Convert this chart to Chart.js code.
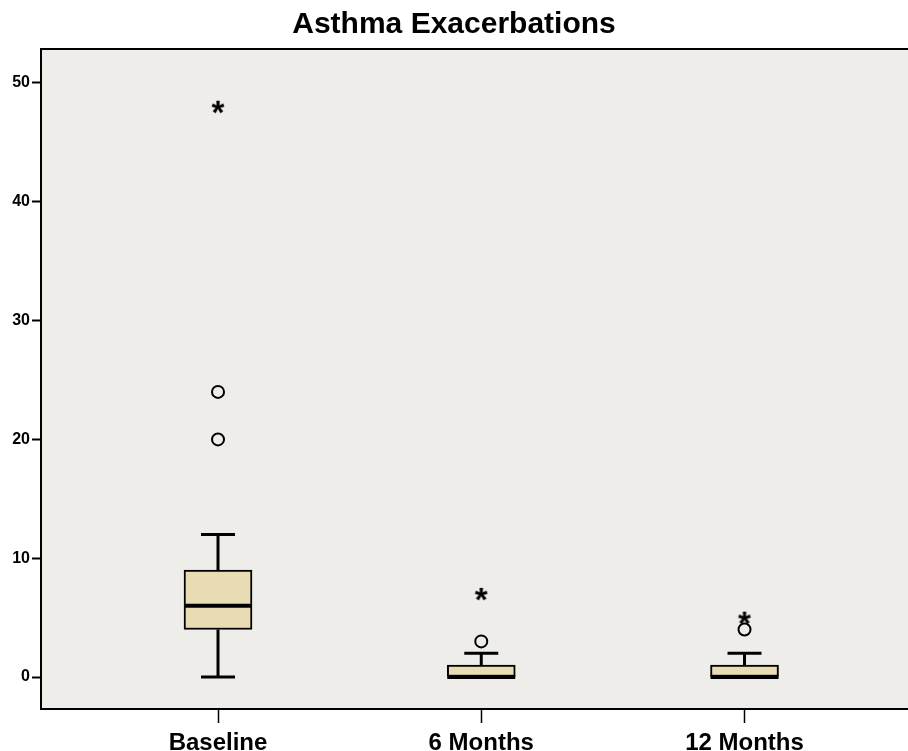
<!DOCTYPE html>
<html>
<head>
<meta charset="utf-8">
<script src="https://cdn.jsdelivr.net/npm/chart.js@4"></script>
<style>
  body { margin: 0; background: #ffffff; }
  canvas { display: block; }
</style>
</head>
<body>
<canvas id="myChart" width="908" height="751"></canvas>
<script>
// Groupes et statistiques de la boîte à moustaches
const groups = ['Baseline', '6 Months', '12 Months'];
const whiskerLow = [0, 0, 0];
const q1 = [4, 0, 0];
const median = [6, 0, 0];
const q3 = [9, 1, 1];
const whiskerHigh = [12, 2, 2];
// Valeurs atypiques (cercles) et extrêmes (astérisques)
const outliers = [[20, 24], [3], [4]];
const extremes = [[48], [7], [5]];
const yTicks = [0, 10, 20, 30, 40, 50];

const FONT = "'Liberation Sans', Arial, Helvetica, sans-serif";

// Petite image pour l'astérisque (point style)
function makeStar() {
    const c = document.createElement('canvas');
    c.width = 30; c.height = 30;
    const g = c.getContext('2d');
    g.font = 'bold 33px ' + FONT;
    g.fillStyle = '#000';
    g.textAlign = 'center';
    g.textBaseline = 'alphabetic';
    const m = g.measureText('*');
    g.fillText('*', 15, 15 + (m.actualBoundingBoxAscent - m.actualBoundingBoxDescent) / 2);
    return c;
}
const starImg = makeStar();

// Données des points
const boxData = groups.map((g, i) => ({ x: i + 1, y: [q1[i], q3[i]] }));
const outlierData = [];
outliers.forEach((vals, i) => vals.forEach(v => outlierData.push({ x: i + 1, y: v })));
const extremeData = [];
extremes.forEach((vals, i) => vals.forEach(v => extremeData.push({ x: i + 1, y: v })));

// Fond de la zone du graphique + cadre du haut
const areaBg = {
    id: 'areaBg',
    beforeDraw(chart) {
        const { ctx, chartArea: a } = chart;
        ctx.save();
        ctx.fillStyle = '#efede9';
        ctx.fillRect(a.left, a.top, a.right - a.left, a.bottom - a.top);
        ctx.strokeStyle = '#000';
        ctx.lineWidth = 2;
        ctx.beginPath();
        ctx.moveTo(a.left, a.top);
        ctx.lineTo(a.right, a.top);
        ctx.stroke();
        ctx.restore();
    }
};

// Moustaches et médianes
const whiskers = {
    id: 'whiskers',
    afterDatasetDraw(chart, args) {
        if (args.index !== 0) return;
        const { ctx } = chart;
        const xs = chart.scales.x, ys = chart.scales.y;
        ctx.save();
        ctx.strokeStyle = '#000';
        groups.forEach((g, i) => {
            const x = xs.getPixelForValue(i + 1);
            const yLo = ys.getPixelForValue(whiskerLow[i]);
            const yQ1 = ys.getPixelForValue(q1[i]);
            const yQ3 = ys.getPixelForValue(q3[i]);
            const yHi = ys.getPixelForValue(whiskerHigh[i]);
            const yMed = ys.getPixelForValue(median[i]);
            ctx.lineWidth = 3;
            ctx.beginPath();
            ctx.moveTo(x, yQ3); ctx.lineTo(x, yHi);
            ctx.moveTo(x - 17, yHi); ctx.lineTo(x + 17, yHi);
            if (yLo - yQ1 > 1) {
                ctx.moveTo(x, yQ1); ctx.lineTo(x, yLo);
                ctx.moveTo(x - 17, yLo); ctx.lineTo(x + 17, yLo);
            }
            ctx.stroke();
            ctx.lineWidth = 4;
            ctx.beginPath();
            ctx.moveTo(x - 34, yMed); ctx.lineTo(x + 34, yMed);
            ctx.stroke();
        });
        ctx.restore();
    }
};

const ctx = document.getElementById('myChart').getContext('2d');
new Chart(ctx, {
    type: 'bar',
    data: {
        datasets: [
            {
                type: 'bar',
                data: boxData,
                backgroundColor: '#e8dcb4',
                borderColor: '#000',
                borderWidth: 2,
                borderSkipped: false,
                barThickness: 68,
                order: 2
            },
            {
                type: 'scatter',
                data: outlierData,
                pointStyle: 'circle',
                pointRadius: 6,
                backgroundColor: 'rgba(0,0,0,0)',
                borderColor: '#000',
                borderWidth: 2,
                order: 1
            },
            {
                type: 'scatter',
                data: extremeData,
                pointStyle: starImg,
                order: 0
            }
        ]
    },
    options: {
        responsive: false,
        animation: false,
        layout: { padding: 0, autoPadding: false },
        plugins: {
            legend: { display: false },
            tooltip: { enabled: false },
            title: {
                display: true,
                text: 'Asthma Exacerbations',
                color: '#000',
                font: { family: FONT, size: 30, weight: 'bold' },
                padding: { top: 7, bottom: 6 }
            }
        },
        scales: {
            x: {
                type: 'linear',
                min: 0.3276,
                max: 3.621,
                offset: false,
                afterBuildTicks(scale) {
                    scale.ticks = groups.map((g, i) => ({ value: i + 1 }));
                },
                afterFit(scale) { scale.height = 42; },
                ticks: {
                    color: '#000',
                    padding: 6,
                    maxRotation: 0,
                    autoSkip: false,
                    font: { family: FONT, size: 24, weight: 'bold' },
                    callback: (v) => groups[v - 1]
                },
                grid: {
                    offset: false,
                    drawOnChartArea: false,
                    drawTicks: true,
                    tickLength: 14,
                    tickColor: '#000',
                    tickWidth: 1.5
                },
                border: { color: '#000', width: 2 }
            },
            y: {
                type: 'linear',
                min: -2.69,
                max: 52.86,
                afterBuildTicks(scale) {
                    scale.ticks = yTicks.map(v => ({ value: v }));
                },
                afterFit(scale) { scale.width = 41; },
                ticks: {
                    color: '#000',
                    padding: 2,
                    font: { family: FONT, size: 16, weight: 'bold' }
                },
                grid: {
                    drawOnChartArea: false,
                    drawTicks: true,
                    tickLength: 9,
                    tickColor: '#000',
                    tickWidth: 2
                },
                border: { color: '#000', width: 2 }
            }
        }
    },
    plugins: [areaBg, whiskers]
});
</script>
</body>
</html>
